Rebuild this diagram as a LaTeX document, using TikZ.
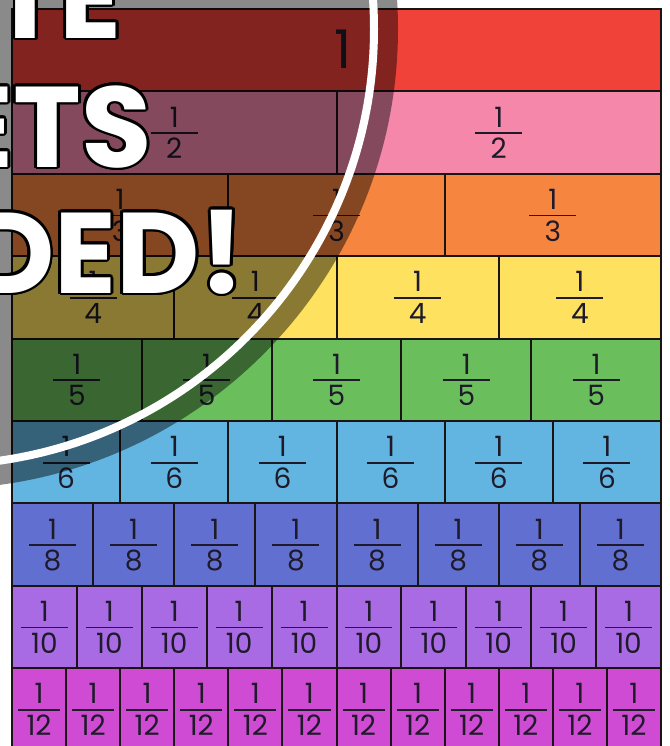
\documentclass[tikz,border=0pt]{standalone}
\usepackage{fontspec}
\setmainfont{Poppins}
\usetikzlibrary{calc}

\definecolor{stripred}{HTML}{F1423A}
\definecolor{strippink}{HTML}{F588AA}
\definecolor{striporange}{HTML}{F5853F}
\definecolor{stripyellow}{HTML}{FEE15E}
\definecolor{stripgreen}{HTML}{6ABE5C}
\definecolor{stripsky}{HTML}{63B5E1}
\definecolor{stripblue}{HTML}{6170D0}
\definecolor{strippurple}{HTML}{A96BE3}
\definecolor{stripmagenta}{HTML}{CF4BD3}
\definecolor{inkdark}{HTML}{1E1A2A}
\definecolor{edgeblack}{HTML}{1A1414}

\begin{document}
\begin{tikzpicture}[
      x=0.75pt, y=-0.75pt,
      cell/.style={draw=edgeblack, line width=1.5pt},
      digit/.style={inner sep=0pt, text=inkdark,
                    font=\fontsize{21}{21}\selectfont},
      bar/.style={draw=inkdark, line width=1.4pt},
      slogan/.style={inner sep=0pt, anchor=base east,
                     font=\bfseries\fontsize{86}{86}\selectfont}]

    \useasboundingbox (0,0) rectangle (670,746);
    \clip (0,0) rectangle (670,746);
    \fill[white] (0,0) rectangle (670,746);

    % the whole
    \draw[cell, fill=stripred] (12,9) rectangle (661,91.4);
    \node[inner sep=0pt, text=inkdark,
          font=\fontsize{40}{40}\selectfont] (whole) at (343,49) {1};

    % unit fraction strips
    \foreach \d/\c [count=\r] in {2/strippink, 3/striporange, 4/stripyellow,
        5/stripgreen, 6/stripsky, 8/stripblue, 10/strippurple, 12/stripmagenta}{
      \pgfmathsetmacro{\rowtop}{9+82.4*\r}
      \pgfmathsetmacro{\w}{649/\d}
      \pgfmathsetmacro{\barw}{min(47,\w-12)}
      \foreach \k in {1,...,\d}{
        \pgfmathsetmacro{\lft}{12+(\k-1)*\w}
        \pgfmathsetmacro{\cx}{\lft+\w/2}
        \draw[cell, fill=\c] (\lft,\rowtop) rectangle ++(\w,82.4);
        \node[digit] (num-\d-\k) at (\cx,\rowtop+25.5) {1};
        \draw[bar] (\cx-\barw/2,\rowtop+41.7) -- (\cx+\barw/2,\rowtop+41.7);
        \node[digit] (den-\d-\k) at (\cx,\rowtop+57) {\d};
      }
    }

    % dark disc and ring
    \fill[black, fill opacity=0.46] (-62,29) circle (460);
    \draw[white, line width=6pt] (-62,29) circle (436);

    % outlined slogan
    \foreach \a in {0,22.5,...,337.5}{
      \node[slogan, text=black] at ($(122,38)+(\a:2.8)$) {TE};
      \node[slogan, text=black] at ($(152,167)+(\a:2.8)$) {ETS};
      \node[slogan, text=black] at ($(245,293)+(\a:2.8)$) {DED!};
    }
    \node[slogan, text=white] (lineone) at (122,38) {TE};
    \node[slogan, text=white] (linetwo) at (152,167) {ETS};
    \node[slogan, text=white] (linethree) at (245,293) {DED!};
\end{tikzpicture}
\end{document}
